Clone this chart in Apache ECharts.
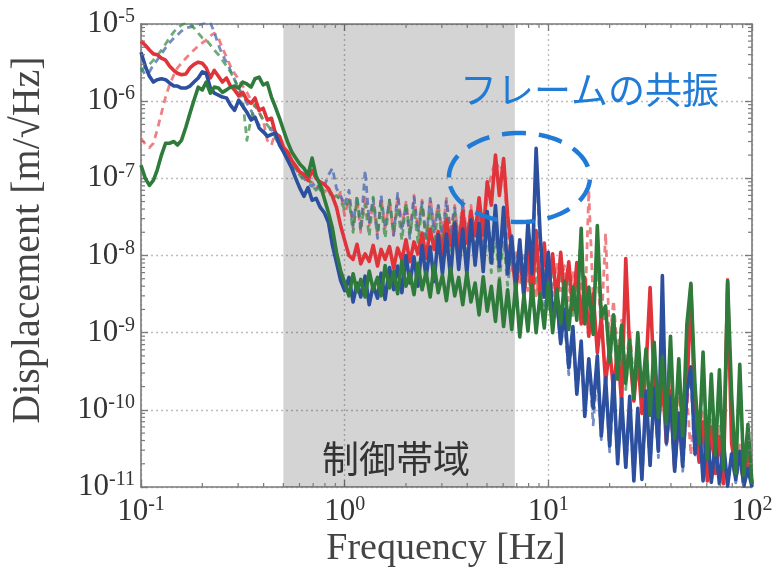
<!DOCTYPE html>
<html>
<head>
<meta charset="utf-8">
<script src="https://cdn.jsdelivr.net/npm/echarts@6/dist/echarts.min.js"></script>
<style>
  html, body { margin: 0; padding: 0; background: #ffffff; }
  #chart { width: 776px; height: 568px; }
</style>
</head>
<body>
<div id="chart"></div>
<script>
// Frequency grid shared by all spectra [Hz]
const freqHz = [
  0.1,0.105,0.11,0.115,0.12,0.126,0.132,0.138,0.145,0.151,
  0.158,0.166,0.174,0.182,0.191,0.2,0.209,0.219,0.229,0.24,
  0.251,0.263,0.275,0.288,0.302,0.316,0.331,0.347,0.363,0.38,
  0.398,0.417,0.437,0.457,0.479,0.501,0.525,0.55,0.575,0.603,
  0.631,0.661,0.692,0.724,0.759,0.794,0.832,0.871,0.912,0.955,
  1.0,1.05,1.1,1.15,1.2,1.26,1.32,1.38,1.45,1.51,
  1.58,1.66,1.74,1.82,1.91,2.0,2.09,2.19,2.29,2.4,
  2.51,2.63,2.75,2.88,3.02,3.16,3.31,3.47,3.63,3.8,
  3.98,4.17,4.37,4.57,4.79,5.01,5.25,5.5,5.75,6.03,
  6.31,6.61,6.92,7.24,7.59,7.94,8.32,8.71,9.12,9.55,
  10,10.5,11,11.5,12,12.6,13.2,13.8,14.5,15.1,
  15.8,16.6,17.4,18.2,19.1,20,20.9,21.9,22.9,24,
  25.1,26.3,27.5,28.8,30.2,31.6,33.1,34.7,36.3,38,
  39.8,41.7,43.7,45.7,47.9,50.1,52.5,55,57.5,60.3,
  63.1,66.1,69.2,72.4,75.9,79.4,83.2,87.1,91.2,95.5,
  100
];

// Displacement spectra [m/√Hz], control on (solid)
const redSolid = [
  6.0e-6,5.3e-6,4.6e-6,4.1e-6,4.0e-6,3.6e-6,3.4e-6,2.85e-6,2.5e-6,2.3e-6,
  2.2e-6,2.25e-6,2.7e-6,3.0e-6,3.2e-6,3.1e-6,2.7e-6,2.0e-6,2.5e-6,2.1e-6,
  1.77e-6,2.0e-6,1.57e-6,1.4e-6,1.17e-6,1.3e-6,1.03e-6,9.4e-7,1.1e-6,7.6e-7,
  8.1e-7,5.7e-7,6.0e-7,3.85e-7,3.5e-7,2.5e-7,2.2e-7,1.7e-7,1.44e-7,1.2e-7,
  1.13e-7,9.4e-8,1.27e-7,1.0e-7,8.9e-8,8.4e-8,7.4e-8,5.85e-8,4.2e-8,2.45e-8,
  1.57e-8,1.0e-8,8.9e-9,1.4e-8,7.8e-9,1.05e-8,8.4e-9,1.35e-8,7.3e-9,1.2e-8,
  8.9e-9,1.3e-8,6.8e-9,1.25e-8,8.8e-9,1.6e-8,8.3e-9,1.5e-8,1.05e-8,1.95e-8,
  9.2e-9,2.2e-8,1.2e-8,2.05e-8,1.07e-8,2.95e-8,1.36e-8,2.7e-8,1.24e-8,3.7e-8,
  1.45e-8,3.7e-8,1.82e-8,5.6e-8,1.85e-8,9.0e-8,4.5e-8,2.0e-7,6.0e-8,1.8e-7,
  3.3e-8,1.17e-8,3.5e-9,1.1e-8,2.9e-9,1.25e-8,2.5e-9,2.1e-8,2.8e-9,1.45e-8,
  3.3e-9,1.05e-8,2.5e-9,1.1e-8,2.9e-9,8.3e-9,2.0e-9,8.1e-9,1.3e-9,5.2e-9,
  9.0e-10,3.2e-9,5.5e-10,1.6e-9,2.3e-10,6.4e-10,1.75e-10,6.6e-10,1.2e-10,9.1e-9,
  5.4e-10,1.3e-10,5.0e-10,9.0e-11,3.6e-10,3.85e-9,2.2e-10,6.0e-11,2.3e-10,3.8e-11,
  1.75e-10,1.8e-11,9.0e-11,2.9e-11,1.5e-10,4.1e-9,6.7e-11,2.1e-11,7.0e-11,1.2e-11,
  6.0e-11,1.5e-11,4.5e-11,1.1e-11,4.4e-9,3.7e-11,1.6e-11,2.7e-11,1.1e-11,2.9e-11,
  1.1e-11
];
const blueSolid = [
  4.3e-6,2.85e-6,2.1e-6,1.77e-6,1.9e-6,1.95e-6,1.9e-6,1.72e-6,1.57e-6,1.57e-6,
  1.48e-6,1.48e-6,1.57e-6,1.77e-6,2.0e-6,2.4e-6,2.3e-6,1.48e-6,1.27e-6,1.2e-6,
  1.13e-6,1.1e-6,8.9e-7,7.6e-7,1.03e-6,8.6e-7,7.2e-7,5.7e-7,6.2e-7,4.5e-7,
  4.0e-7,3.5e-7,3.7e-7,3.85e-7,2.7e-7,2.2e-7,1.72e-7,1.35e-7,1.0e-7,7.4e-8,
  5.85e-8,7.6e-8,5.2e-8,5.5e-8,4.2e-8,3.6e-8,2.7e-8,1.35e-8,8.1e-9,4.75e-9,
  3.5e-9,5.2e-9,2.5e-9,4.4e-9,2.9e-9,5.4e-9,2.3e-9,4.1e-9,2.8e-9,5.9e-9,
  2.7e-9,7.0e-9,3.6e-9,7.3e-9,3.3e-9,1.0e-8,4.4e-9,9.6e-9,4.0e-9,1.35e-8,
  5.2e-9,1.3e-8,4.6e-9,1.85e-8,5.8e-9,1.9e-8,5.2e-9,2.6e-8,6.6e-9,2.2e-8,
  5.8e-9,2.9e-8,7.5e-9,2.6e-8,6.2e-9,3.7e-8,8.0e-9,4.45e-8,7.2e-9,4.2e-8,
  5.8e-9,1.75e-8,4.1e-9,1.6e-8,3.3e-9,2.7e-8,5.8e-9,2.45e-7,1.83e-8,2.9e-9,
  1.1e-8,1.7e-9,2.9e-9,7.2e-10,2.0e-9,3.5e-10,1.2e-9,1.6e-10,7.8e-10,8.2e-11,
  4.6e-10,1.05e-10,5.0e-10,4.6e-11,2.6e-10,3.4e-11,2.8e-10,2.0e-11,1.4e-10,1.8e-11,
  1.5e-10,1.2e-11,1.05e-10,1.25e-11,1.75e-10,1.9e-11,1.9e-10,2.9e-11,5.5e-9,3.7e-11,
  1.5e-10,1.6e-11,9.0e-11,1.85e-11,1.75e-10,3.6e-10,2.7e-11,8.2e-11,1.2e-11,6.0e-11,
  1.15e-11,3.7e-11,1.1e-11,3.9e-11,1.03e-11,2.7e-11,1.25e-11,2.9e-11,1.03e-11,1.75e-11,
  1.0e-11
];
const greenSolid = [
  1.48e-7,1.0e-7,8.1e-8,9.4e-8,1.27e-7,2.0e-7,2.85e-7,2.85e-7,3.0e-7,2.7e-7,
  3.1e-7,4.6e-7,7.0e-7,1.03e-6,1.52e-6,1.4e-6,1.77e-6,1.27e-6,1.52e-6,1.48e-6,
  1.3e-6,1.4e-6,1.52e-6,1.57e-6,1.48e-6,1.77e-6,1.67e-6,1.52e-6,1.95e-6,2.05e-6,
  1.62e-6,1.72e-6,1.13e-6,8.4e-7,6.0e-7,4.2e-7,2.95e-7,2.2e-7,1.83e-7,1.52e-7,
  1.35e-7,1.1e-7,1.83e-7,1.07e-7,8.1e-8,5.5e-8,3.6e-8,2.25e-8,1.1e-8,6.4e-9,
  4.45e-9,3.0e-9,5.8e-9,3.4e-9,4.9e-9,2.9e-9,6.3e-9,3.6e-9,5.2e-9,3.0e-9,
  7.4e-9,3.8e-9,6.2e-9,3.2e-9,8.6e-9,4.0e-9,5.9e-9,3.1e-9,7.9e-9,3.6e-9,
  6.1e-9,2.9e-9,7.6e-9,3.3e-9,5.6e-9,2.6e-9,6.9e-9,3.0e-9,5.2e-9,2.3e-9,
  6.0e-9,2.5e-9,4.4e-9,1.7e-9,5.3e-9,1.9e-9,4.0e-9,1.4e-9,4.8e-9,1.2e-9,
  3.6e-9,1.1e-9,4.3e-9,8.8e-10,3.1e-9,1.05e-9,4.2e-9,1.0e-9,3.2e-9,1.15e-9,
  4.5e-9,1.0e-9,3.7e-9,1.3e-9,4.6e-9,1.1e-9,3.9e-9,1.45e-9,2.25e-8,1.3e-9,
  3.9e-9,9.5e-10,2.45e-8,1.6e-9,2.2e-9,4.2e-10,1.7e-9,2.5e-10,1.25e-9,2.2e-10,
  8.0e-10,1.4e-10,1.0e-9,1.5e-10,6.2e-10,8.5e-11,7.5e-10,8.0e-11,4.9e-10,6.5e-11,
  9.0e-10,4.3e-11,4.6e-10,4.6e-11,1.3e-9,4.35e-9,2.1e-10,3.6e-11,5.6e-10,2.3e-11,
  2.9e-10,2.6e-11,3.3e-10,1.7e-11,4.75e-9,1.6e-10,1.5e-11,3.9e-10,1.4e-11,6.5e-11,
  1.1e-11
];

// Displacement spectra [m/√Hz], control off (dashed)
const redDashed = [
  3.3e-7,2.77e-7,2.5e-7,2.85e-7,4.2e-7,7.0e-7,1.13e-6,1.62e-6,2.2e-6,2.7e-6,
  3.1e-6,3.6e-6,4.1e-6,4.6e-6,5.2e-6,5.7e-6,6.2e-6,7.0e-6,7.6e-6,6.6e-6,
  4.9e-6,3.7e-6,2.85e-6,2.3e-6,1.9e-6,1.57e-6,1.3e-6,1.03e-6,8.6e-7,7.2e-7,
  5.7e-7,3.1e-7,2.7e-7,4.0e-7,3.1e-7,2.3e-7,1.83e-7,1.62e-7,1.35e-7,1.2e-7,
  1.07e-7,9.4e-8,8.9e-8,7.4e-8,8.1e-8,6.6e-8,7.4e-8,6.0e-8,5.2e-8,6.6e-8,
  3.3e-8,5.5e-8,2.25e-8,5.2e-8,2.0e-8,5.85e-8,2.45e-8,4.75e-8,1.83e-8,5.5e-8,
  2.25e-8,5.2e-8,1.77e-8,5.85e-8,2.4e-8,4.9e-8,2.0e-8,6.0e-8,2.25e-8,5.2e-8,
  1.67e-8,5.5e-8,2.4e-8,4.6e-8,1.9e-8,5.5e-8,2.1e-8,4.45e-8,1.57e-8,5.2e-8,
  1.83e-8,4.45e-8,1.35e-8,5.2e-8,1.17e-8,7.0e-8,1.1e-7,1.72e-7,1.27e-7,1.48e-7,
  2.1e-8,6.4e-9,1.17e-8,4.1e-9,1.0e-8,3.5e-9,1.17e-8,3.0e-9,8.6e-9,3.3e-9,
  9.1e-9,3.0e-9,8.1e-9,3.5e-9,7.4e-9,2.6e-9,6.4e-9,1.95e-9,4.75e-9,1.45e-9,
  7.0e-8,2.6e-9,6.4e-9,1.1e-9,1.94e-8,8.1e-10,2.6e-9,5.2e-10,1.45e-9,3.3e-10,
  1.1e-9,2.1e-10,8.1e-10,1.35e-10,6.0e-10,1.0e-10,4.5e-10,7.4e-11,3.3e-10,5.5e-11,
  2.45e-10,4.1e-11,1.83e-10,3.0e-11,1.57e-10,2.6e-11,1.35e-10,2.25e-11,1.0e-10,1.94e-11,
  7.4e-11,1.67e-11,6.4e-11,1.44e-11,5.5e-9,4.1e-11,1.3e-11,3.5e-11,1.17e-11,3.0e-11,
  1.05e-11
];
const blueDashed = [
  2.7e-6,2.2e-6,2.4e-6,2.95e-6,3.4e-6,4.1e-6,4.9e-6,5.7e-6,6.6e-6,7.2e-6,
  8.1e-6,8.9e-6,9.1e-6,9.4e-6,9.7e-6,1.0e-5,1.06e-5,1.03e-5,7.9e-6,5.35e-6,
  4.0e-6,3.2e-6,2.5e-6,1.9e-6,1.48e-6,1.2e-6,9.4e-7,7.6e-7,6.0e-7,4.9e-7,
  4.2e-7,3.6e-7,4.5e-7,3.3e-7,2.7e-7,2.3e-7,2.0e-7,1.62e-7,1.35e-7,1.1e-7,
  1.0e-7,8.6e-8,7.9e-8,8.9e-8,7.0e-8,7.9e-8,1.1e-7,1.35e-7,7.4e-8,6.0e-8,
  4.45e-8,7.0e-8,2.45e-8,6.0e-8,2.1e-8,1.27e-7,2.7e-8,5.5e-8,1.67e-8,6.0e-8,
  2.25e-8,5.2e-8,1.83e-8,6.4e-8,2.1e-8,4.45e-8,1.67e-8,5.7e-8,2.0e-8,4.9e-8,
  1.57e-8,5.5e-8,2.0e-8,4.45e-8,1.57e-8,5.2e-8,1.77e-8,4.1e-8,1.35e-8,4.6e-8,
  1.48e-8,3.85e-8,1.17e-8,4.1e-8,1.0e-8,3.3e-8,1.17e-8,3.85e-8,9.1e-9,2.85e-8,
  7.4e-9,1.83e-8,4.75e-9,1.57e-8,3.5e-9,2.1e-8,4.75e-9,1.72e-7,1.17e-8,2.25e-9,
  6.4e-9,1.45e-9,2.25e-9,7.0e-10,1.45e-9,2.85e-10,9.4e-10,1.57e-10,6.0e-10,8.6e-11,
  4.5e-10,6.4e-11,3.3e-10,4.1e-11,2.45e-10,2.85e-11,1.83e-10,2.1e-11,1.35e-10,1.67e-11,
  1.0e-10,1.4e-11,8.6e-11,1.24e-11,1.15e-10,1.9e-11,1.57e-10,2.4e-11,3.5e-9,3.5e-11,
  1.15e-10,1.67e-11,8.6e-11,1.6e-11,1.35e-10,2.45e-10,2.6e-11,6.4e-11,1.3e-11,4.75e-11,
  1.1e-11,3.5e-11,1.24e-11,3.0e-11,1.05e-11,2.6e-11,1.13e-11,2.25e-11,1.03e-11,1.67e-11,
  1.0e-11
];
const greenDashed = [
  2.4e-6,2.85e-6,3.0e-6,3.4e-6,3.85e-6,4.6e-6,5.5e-6,6.6e-6,7.9e-6,8.9e-6,
  9.7e-6,1.03e-5,1.0e-5,8.9e-6,7.6e-6,6.6e-6,6.2e-6,5.35e-6,4.6e-6,4.0e-6,
  3.4e-6,2.85e-6,2.4e-6,1.9e-6,1.4e-6,1.03e-6,3.1e-7,6.0e-7,8.9e-7,7.2e-7,
  5.7e-7,4.9e-7,4.2e-7,3.5e-7,2.95e-7,2.45e-7,1.94e-7,1.52e-7,1.27e-7,1.1e-7,
  9.4e-8,1.0e-7,8.1e-8,7.0e-8,8.4e-8,6.6e-8,7.0e-8,5.5e-8,6.0e-8,5.2e-8,
  3.9e-8,5.2e-8,2.0e-8,5.5e-8,2.4e-8,4.6e-8,1.77e-8,5.7e-8,2.1e-8,4.45e-8,
  1.67e-8,5.2e-8,2.0e-8,4.2e-8,1.57e-8,4.9e-8,1.9e-8,4.1e-8,1.48e-8,4.45e-8,
  1.67e-8,3.85e-8,1.35e-8,4.1e-8,1.48e-8,3.4e-8,1.17e-8,3.6e-8,1.0e-8,2.85e-8,
  9.1e-9,3.0e-8,8.1e-9,2.45e-8,6.8e-9,2.1e-8,6.0e-9,1.83e-8,4.75e-9,1.57e-8,
  4.1e-9,1.17e-8,3.3e-9,8.6e-9,2.6e-9,7.4e-9,2.25e-9,6.8e-9,1.95e-9,6.4e-9,
  2.05e-9,6.8e-9,2.25e-9,7.4e-9,1.95e-9,6.4e-9,1.67e-9,5.5e-9,1.57e-8,1.45e-9,
  4.1e-9,1.1e-9,1.83e-8,9.4e-10,2.25e-9,3.85e-10,1.27e-9,2.6e-10,9.4e-10,1.83e-10,
  8.1e-10,1.44e-10,7.0e-10,1.15e-10,6.0e-10,8.6e-11,5.7e-10,7.0e-11,4.75e-10,5.5e-11,
  6.0e-10,4.3e-11,4.2e-10,3.6e-11,7.0e-10,2.6e-9,1.83e-10,2.85e-11,3.85e-10,2.4e-11,
  2.6e-10,2.1e-11,2.35e-10,1.77e-11,2.6e-9,1.0e-10,1.6e-11,3.3e-10,1.24e-11,5.5e-11,
  1.05e-11
];

// Axis decorations
const minorXTicks = [0.2,0.3,0.4,0.5,0.6,0.7,0.8,0.9, 2,3,4,5,6,7,8,9, 20,30,40,50,60,70,80,90];
const minorYTicks = [
  2e-11,3e-11,4e-11,5e-11,6e-11,7e-11,8e-11,9e-11,
  2e-10,3e-10,4e-10,5e-10,6e-10,7e-10,8e-10,9e-10,
  2e-9,3e-9,4e-9,5e-9,6e-9,7e-9,8e-9,9e-9,
  2e-8,3e-8,4e-8,5e-8,6e-8,7e-8,8e-8,9e-8,
  2e-7,3e-7,4e-7,5e-7,6e-7,7e-7,8e-7,9e-7,
  2e-6,3e-6,4e-6,5e-6,6e-6,7e-6,8e-6,9e-6
];
const xRange = [0.1, 100];
const yRange = [1e-11, 1e-5];

// Control bandwidth [Hz] and the frame-resonance marker box [f1, f2, v1, v2]
const controlBand = [0.5, 6.85];
const resonanceBox = [3.25, 16.0, 3.87e-7, 2.72e-8];

const chart = echarts.init(document.getElementById('chart'), null, { renderer: 'canvas' });

const SERIF = 'Liberation Serif';
const CJK = 'Noto Sans CJK JP';
const tickColor = '#333333';
const frameColor = '#7a7a7a';

function pairs(vals) { return freqHz.map((f, i) => [f, vals[i]]); }
function powerLabel(v) {
  const e = Math.round(Math.log10(v));
  return '{b|10}{s|' + e + '}';
}
const labelRich = {
  b: { fontFamily: SERIF, fontSize: 31, color: tickColor, lineHeight: 34, verticalAlign: 'middle' },
  s: { fontFamily: SERIF, fontSize: 20, color: tickColor, lineHeight: 20, verticalAlign: 'top' }
};

function spectrum(name, vals, color, dashed, z, opacity) {
  return {
    type: 'line', name, data: pairs(vals), z,
    showSymbol: false, symbol: 'none', silent: true, animation: false, clip: true,
    xAxisIndex: 0, yAxisIndex: 0,
    lineStyle: { color, width: dashed ? 2.8 : 3.6, type: dashed ? [7, 5] : 'solid', opacity, join: 'round', cap: 'butt' }
  };
}

const splitLine = { show: true, lineStyle: { color: '#bdbdbd', width: 1.4, type: [2, 3] } };
const axisLine = { show: true, lineStyle: { color: frameColor, width: 1.6 } };
const majorTick = { show: true, inside: true, length: 7, lineStyle: { color: frameColor, width: 1.3 } };

const option = {
  animation: false,
  backgroundColor: '#ffffff',
  grid: { left: 141, right: 24, top: 24, bottom: 81, containLabel: false },
  xAxis: [
    {
      type: 'log', logBase: 10, min: xRange[0], max: xRange[1], position: 'bottom',
      axisLine, axisTick: majorTick, splitLine,
      axisLabel: { margin: 8, formatter: powerLabel, rich: labelRich }
    },
    {
      type: 'log', logBase: 10, min: xRange[0], max: xRange[1], position: 'top',
      axisLine, axisTick: majorTick, splitLine: { show: false }, axisLabel: { show: false }
    }
  ],
  yAxis: [
    {
      type: 'log', logBase: 10, min: yRange[0], max: yRange[1], position: 'left',
      axisLine, axisTick: majorTick, splitLine,
      axisLabel: { margin: 6, formatter: powerLabel, rich: labelRich }
    },
    {
      type: 'log', logBase: 10, min: yRange[0], max: yRange[1], position: 'right',
      axisLine, axisTick: majorTick, splitLine: { show: false }, axisLabel: { show: false }
    }
  ],
  graphic: [
    {
      type: 'text', left: 460, top: 71, z: 100,
      style: { text: 'フレームの共振', fontFamily: CJK, fontSize: 37, fill: '#1f7bd6' }
    },
    {
      type: 'text', left: 322, top: 440, z: 100,
      style: { text: '制御帯域', fontFamily: CJK, fontSize: 37, fill: '#333333' }
    },
    {
      type: 'text', x: 446, y: 549, z: 100,
      style: { text: 'Frequency [Hz]', fontFamily: SERIF, fontSize: 38, fill: '#444444', align: 'center', verticalAlign: 'middle' }
    },
    {
      type: 'text', x: 28, y: 240, rotation: Math.PI / 2, z: 100,
      style: { text: 'Displacement [m/√Hz]', fontFamily: SERIF, fontSize: 40, fill: '#444444', align: 'center', verticalAlign: 'middle' }
    }
  ],
  series: [
    {
      type: 'line', data: [], z: 1, silent: true,
      markArea: {
        silent: true,
        itemStyle: { color: 'rgba(0,0,0,0.17)' },
        data: [[{ xAxis: controlBand[0] }, { xAxis: controlBand[1] }]]
      }
    },
    spectrum('red off', redDashed, '#e8575b', true, 3, 0.75),
    spectrum('blue off', blueDashed, '#4567b0', true, 4, 0.75),
    spectrum('green off', greenDashed, '#3f8f4c', true, 5, 0.75),
    spectrum('red on', redSolid, '#e0343a', false, 6, 1),
    spectrum('blue on', blueSolid, '#2c4f9e', false, 7, 1),
    spectrum('green on', greenSolid, '#2f7b3b', false, 8, 1),
    {
      // dashed ellipse around the frame resonance
      type: 'custom', z: 12, silent: true, clip: false,
      data: [resonanceBox],
      encode: { x: [0, 1], y: [2, 3] },
      renderItem: function (params, api) {
        const p1 = api.coord([api.value(0), api.value(2)]);
        const p2 = api.coord([api.value(1), api.value(3)]);
        const cx = (p1[0] + p2[0]) / 2, cy = (p1[1] + p2[1]) / 2;
        const rx = Math.abs(p2[0] - p1[0]) / 2, ry = Math.abs(p2[1] - p1[1]) / 2;
        const pts = [];
        for (let i = 0; i <= 120; i++) {
          const t = Math.PI + (i / 120) * Math.PI * 2;
          pts.push([cx + rx * Math.cos(t), cy + ry * Math.sin(t)]);
        }
        return {
          type: 'polyline', shape: { points: pts },
          style: { stroke: '#1f7bd6', lineWidth: 4.5, lineDash: [24, 13], fill: null }
        };
      }
    },
    {
      // minor ticks on bottom and top edges
      type: 'custom', z: 20, silent: true,
      data: minorXTicks.map(f => [f]),
      encode: { x: 0 },
      renderItem: function (params, api) {
        const f = api.value(0);
        const b = api.coord([f, yRange[0]]);
        const t = api.coord([f, yRange[1]]);
        const st = { stroke: frameColor, lineWidth: 1.2 };
        return {
          type: 'group', children: [
            { type: 'line', shape: { x1: b[0], y1: b[1], x2: b[0], y2: b[1] - 4 }, style: st },
            { type: 'line', shape: { x1: t[0], y1: t[1], x2: t[0], y2: t[1] + 4 }, style: st }
          ]
        };
      }
    },
    {
      // minor ticks on left and right edges
      type: 'custom', z: 20, silent: true,
      data: minorYTicks.map(v => [xRange[0], v]),
      encode: { x: 0, y: 1 },
      renderItem: function (params, api) {
        const v = api.value(1);
        const l = api.coord([xRange[0], v]);
        const r = api.coord([xRange[1], v]);
        const st = { stroke: frameColor, lineWidth: 1.2 };
        return {
          type: 'group', children: [
            { type: 'line', shape: { x1: l[0], y1: l[1], x2: l[0] + 4, y2: l[1] }, style: st },
            { type: 'line', shape: { x1: r[0], y1: r[1], x2: r[0] - 4, y2: r[1] }, style: st }
          ]
        };
      }
    }
  ]
};

chart.setOption(option);
</script>
</body>
</html>
